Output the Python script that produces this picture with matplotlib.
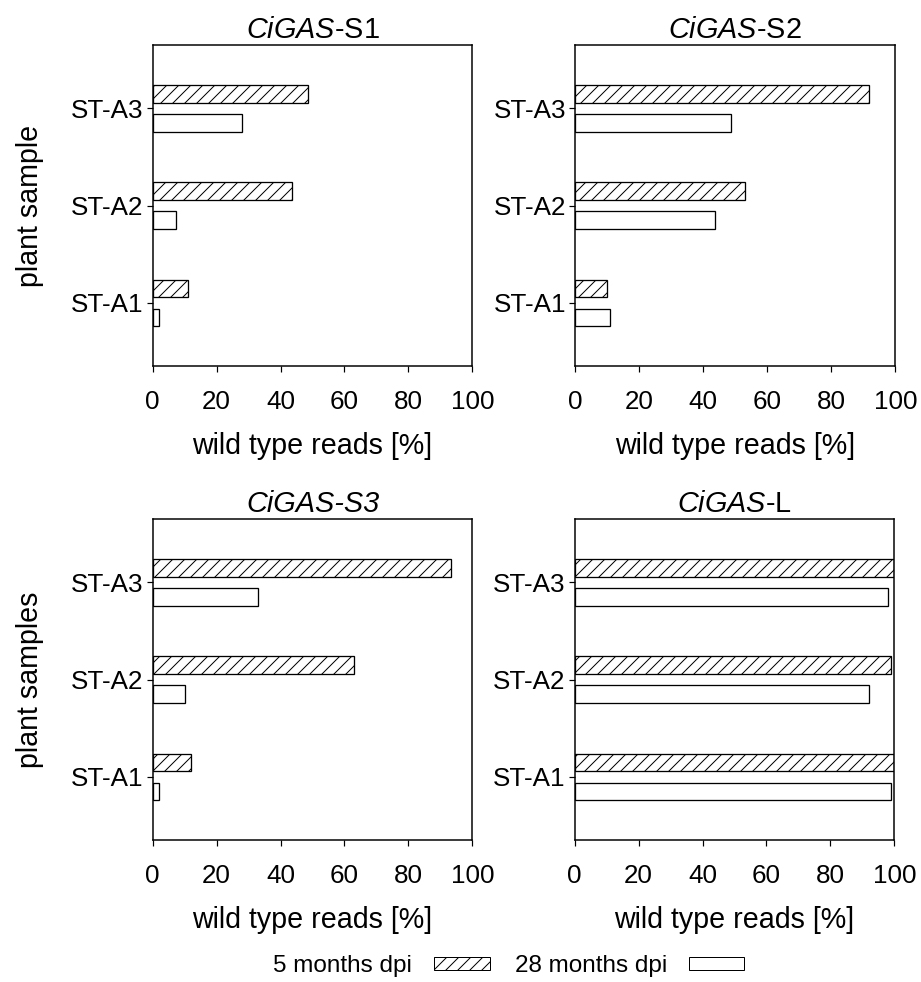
import matplotlib
matplotlib.use("Agg")
import matplotlib.pyplot as plt
from matplotlib.patches import Patch
import numpy as np

plt.rcParams['font.family'] = ['Liberation Sans', 'DejaVu Sans']
plt.rcParams['mathtext.fontset'] = 'custom'
plt.rcParams['mathtext.rm'] = 'Liberation Sans'
plt.rcParams['mathtext.it'] = 'Liberation Sans:italic'
plt.rcParams['hatch.linewidth'] = 1.0

# data (wild type reads, %)
samples = ['ST-A1', 'ST-A2', 'ST-A3']
s1_5m = [11.0, 43.6, 48.6]
s1_28m = [2.1, 7.3, 28.0]
s2_5m = [10.0, 52.9, 91.9]
s2_28m = [10.9, 43.6, 48.6]
s3_5m = [12.0, 63.1, 93.2]
s3_28m = [2.0, 10.0, 33.0]
l_5m = [100.0, 99.1, 100.0]
l_28m = [99.0, 92.0, 98.0]

titles = [r'$\mathit{CiGAS}$-S1', r'$\mathit{CiGAS}$-S2', 'CiGAS-S3', r'$\mathit{CiGAS}$-L']
ylabels = ['plant sample', None, 'plant samples', None]
panels = [(s1_5m, s1_28m), (s2_5m, s2_28m), (s3_5m, s3_28m), (l_5m, l_28m)]

# dpi 72 so that one point is one pixel (and hatch spacing matches)
fig = plt.figure(figsize=(921 / 72, 982 / 72), dpi=72)

boxes = [
    [152.7 / 921, 1 - 366 / 982, 319.6 / 921, 320.7 / 982],
    [575.3 / 921, 1 - 366 / 982, 320 / 921, 320.7 / 982],
    [152.7 / 921, 1 - 840 / 982, 319.6 / 921, 320.7 / 982],
    [574.7 / 921, 1 - 840 / 982, 319.6 / 921, 320.7 / 982],
]

y = np.arange(len(samples))
h = 0.18
off = 0.15

for i, (box, (v5, v28)) in enumerate(zip(boxes, panels)):
    ax = fig.add_axes(box)
    ax.barh(y + off, v5, height=h, color='white', edgecolor='black',
            linewidth=1.3, hatch='//')
    ax.barh(y - off, v28, height=h, color='white', edgecolor='black',
            linewidth=1.3)
    ax.set_xlim(0, 100)
    ax.set_ylim(-0.65, 2.65)
    ax.set_xticks([0, 20, 40, 60, 80, 100])
    ax.set_yticks(y)
    ax.set_yticklabels(samples)
    ax.tick_params(axis='x', direction='out', length=6, width=1.2, pad=18, labelsize=26)
    ax.tick_params(axis='y', direction='out', length=6, width=1.2, pad=3, labelsize=26)
    for sp in ax.spines.values():
        sp.set_linewidth(1.5)
    ax.set_xlabel('wild type reads [%]', fontsize=28.6, labelpad=18)
    if i == 2:
        ax.set_title(titles[i], fontsize=28.9, pad=7, fontstyle='italic')
    else:
        ax.set_title(titles[i], fontsize=28.9, pad=7)
    if ylabels[i]:
        ax.set_ylabel(ylabels[i], fontsize=28.6)
        ax.yaxis.set_label_coords(-0.34, 0.5)

handles = [Patch(facecolor='white', edgecolor='black', hatch='//', linewidth=1.0),
           Patch(facecolor='white', edgecolor='black', linewidth=1.0)]
fig.legend(handles, ['5 months dpi', '28 months dpi'], loc='center',
           bbox_to_anchor=(0.5525, 0.0163), ncol=2, frameon=False,
           markerfirst=False, fontsize=24.2, handlelength=2.3,
           handleheight=0.41, handletextpad=0.9, columnspacing=1.03,
           borderpad=0)

fig.savefig('out.png', dpi=72)
